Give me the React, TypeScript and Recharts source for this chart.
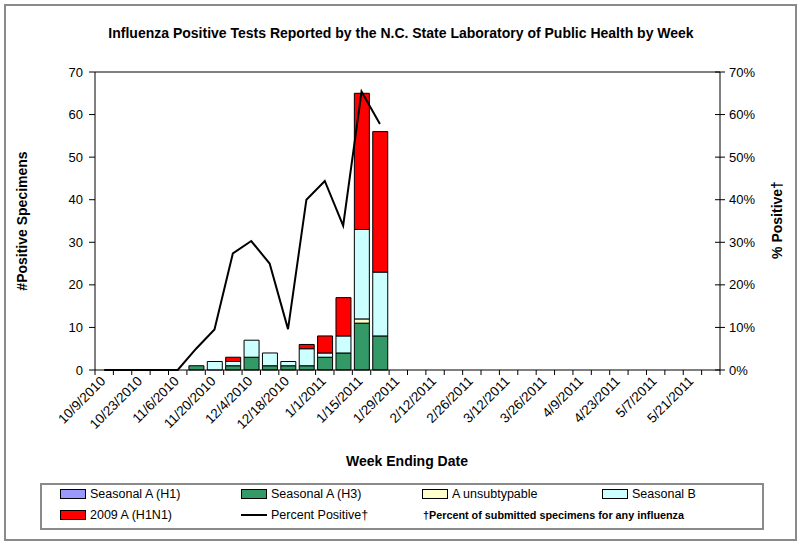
import React from 'react';
import { ComposedChart, Bar, Line, XAxis, YAxis, ReferenceLine } from 'recharts';

const weeks = [
  '10/9/2010', '10/16/2010', '10/23/2010', '10/30/2010', '11/6/2010', '11/13/2010',
  '11/20/2010', '11/27/2010', '12/4/2010', '12/11/2010', '12/18/2010', '12/25/2010',
  '1/1/2011', '1/8/2011', '1/15/2011', '1/22/2011', '1/29/2011', '2/5/2011',
  '2/12/2011', '2/19/2011', '2/26/2011', '3/5/2011', '3/12/2011', '3/19/2011',
  '3/26/2011', '4/2/2011', '4/9/2011', '4/16/2011', '4/23/2011', '4/30/2011',
  '5/7/2011', '5/14/2011', '5/21/2011', '5/28/2011',
];

const seasonalAH1 = [0, 0, 0, 0, 0, 0, 0, 0, 0, 0, 0, 0, 0, 0, 0, 0];
const seasonalAH3 = [0, 0, 0, 0, 0, 1, 0, 1, 3, 1, 1, 1, 3, 4, 11, 8];
const aUnsubtypable = [0, 0, 0, 0, 0, 0, 0, 0, 0, 0, 0, 0, 0, 0, 1, 0];
const seasonalB = [0, 0, 0, 0, 0, 0, 2, 1, 4, 3, 1, 4, 1, 4, 21, 15];
const h1n1_2009 = [0, 0, 0, 0, 0, 0, 0, 1, 0, 0, 0, 1, 4, 9, 32, 33];
const percentPositive = [0, 0, 0, 0, 0, 5, 9.5, 27.4, 30.3, 25, 9.6, 40, 44.4, 33.9, 65.4, 57.8];

const leftTicks = [0, 10, 20, 30, 40, 50, 60, 70];
const rightTicks = [0, 10, 20, 30, 40, 50, 60, 70];

const data = weeks.map((week, i) => ({
  week,
  h1: seasonalAH1[i] ?? null,
  h3: seasonalAH3[i] ?? null,
  unsub: aUnsubtypable[i] ?? null,
  b: seasonalB[i] ?? null,
  h1n1: h1n1_2009[i] ?? null,
  pct: percentPositive[i] ?? null,
}));

const FONT = '"Liberation Sans", Arial, sans-serif';
const PLOT_LEFT = 95;
const PLOT_RIGHT = 720;
const PLOT_BOTTOM = 370;
const BAND = (PLOT_RIGHT - PLOT_LEFT) / weeks.length;

const COLORS = {
  h1: '#9999FF',
  h3: '#339966',
  unsub: '#FFFFCC',
  b: '#CCFFFF',
  h1n1: '#FF0000',
};

const XTick = (props: any) => {
  const { x, payload } = props;
  const idx = payload.index;
  const showLabel = idx % 2 === 0;
  const lx = x + 2;
  const ly = 382;
  return (
    <g>
      <line x1={x - BAND / 2} x2={x - BAND / 2} y1={PLOT_BOTTOM} y2={PLOT_BOTTOM + 5} stroke="#000" />
      {idx === weeks.length - 1 && (
        <line x1={x + BAND / 2} x2={x + BAND / 2} y1={PLOT_BOTTOM} y2={PLOT_BOTTOM + 5} stroke="#000" />
      )}
      {showLabel && (
        <text
          x={lx}
          y={ly}
          transform={`rotate(-45 ${lx} ${ly})`}
          textAnchor="end"
          fontSize={13.5}
          fontFamily={FONT}
          fill="#000"
        >
          {payload.value}
        </text>
      )}
    </g>
  );
};

const RightTick = (props: any) => {
  const { y, payload } = props;
  return (
    <g>
      <line x1={PLOT_RIGHT - 5} x2={PLOT_RIGHT + 5} y1={y} y2={y} stroke="#000" />
      <text x={PLOT_RIGHT + 9} y={y} dy={4.5} textAnchor="start" fontSize={13} fontFamily={FONT} fill="#000">
        {payload.value + '%'}
      </text>
    </g>
  );
};

const LeftTick = (props: any) => {
  const { y, payload } = props;
  return (
    <text x={PLOT_LEFT - 12} y={y} dy={4.5} textAnchor="end" fontSize={13} fontFamily={FONT} fill="#000">
      {payload.value}
    </text>
  );
};

const Swatch = ({ color }: { color: string }) => (
  <span
    style={{
      display: 'inline-block',
      width: 24,
      height: 8,
      background: color,
      border: '1px solid #000',
      marginRight: 4,
      verticalAlign: 'middle',
      position: 'relative',
      top: -1,
    }}
  />
);

const LineSwatch = () => (
  <span
    style={{
      display: 'inline-block',
      width: 26,
      height: 2,
      background: '#000',
      marginRight: 4,
      verticalAlign: 'middle',
      position: 'relative',
      top: -1,
    }}
  />
);

const legendItem = (left: number, top: number, content: React.ReactNode) => (
  <div
    style={{
      position: 'absolute',
      left,
      top,
      whiteSpace: 'nowrap',
      fontSize: 12.5,
      fontFamily: FONT,
      lineHeight: '14px',
      color: '#000',
    }}
  >
    {content}
  </div>
);

const axisTitleStyle: React.CSSProperties = {
  position: 'absolute',
  fontSize: 14,
  fontWeight: 'bold',
  fontFamily: FONT,
  whiteSpace: 'nowrap',
};

export default function App() {
  return (
    <div style={{ position: 'absolute', left: 0, top: 0, width: 800, height: 547, background: '#fff', fontFamily: FONT }}>
      <div
        style={{
          position: 'absolute',
          left: 4,
          top: 4,
          width: 789,
          height: 533,
          border: '2px solid #8a8a8a',
        }}
      />
      <ComposedChart
        width={800}
        height={547}
        data={data}
        margin={{ top: 72, right: 0, bottom: 77, left: 0 }}
        barGap={0}
      >
        <XAxis
          dataKey="week"
          interval={0}
          tickLine={false}
          tick={(p: any) => <XTick {...p} />}
          axisLine={{ stroke: '#000' }}
          height={100}
        />
        <YAxis
          yAxisId="left"
          orientation="left"
          width={95}
          domain={[0, 70]}
          ticks={leftTicks}
          interval={0}
          tick={(p: any) => <LeftTick {...p} />}
          tickLine={{ stroke: '#000' }}
          tickSize={6}
          axisLine={{ stroke: '#000' }}
        />
        <YAxis
          yAxisId="right"
          orientation="right"
          width={80}
          domain={[0, 70]}
          ticks={rightTicks}
          interval={0}
          tick={(p: any) => <RightTick {...p} />}
          tickLine={false}
          axisLine={{ stroke: '#000' }}
        />
        <ReferenceLine yAxisId="left" y={70} stroke="#000" />
        <Bar yAxisId="left" dataKey="h1" stackId="a" fill={COLORS.h1} stroke="#000" strokeWidth={1} barSize={15} isAnimationActive={false} />
        <Bar yAxisId="left" dataKey="h3" stackId="a" fill={COLORS.h3} stroke="#000" strokeWidth={1} barSize={15} isAnimationActive={false} />
        <Bar yAxisId="left" dataKey="unsub" stackId="a" fill={COLORS.unsub} stroke="#000" strokeWidth={1} barSize={15} isAnimationActive={false} />
        <Bar yAxisId="left" dataKey="b" stackId="a" fill={COLORS.b} stroke="#000" strokeWidth={1} barSize={15} isAnimationActive={false} />
        <Bar yAxisId="left" dataKey="h1n1" stackId="a" fill={COLORS.h1n1} stroke="#000" strokeWidth={1} barSize={15} isAnimationActive={false} />
        <Line
          yAxisId="right"
          dataKey="pct"
          type="linear"
          stroke="#000"
          strokeWidth={2}
          dot={false}
          activeDot={false}
          connectNulls={false}
          isAnimationActive={false}
        />
      </ComposedChart>

      <div
        style={{
          position: 'absolute',
          left: 0,
          top: 25,
          width: 802,
          textAlign: 'center',
          fontSize: 14,
          fontWeight: 'bold',
          fontFamily: FONT,
          whiteSpace: 'nowrap',
        }}
      >
        Influenza Positive Tests Reported by the N.C. State Laboratory of Public Health by Week
      </div>

      <div style={{ ...axisTitleStyle, left: 22, top: 221, transform: 'translate(-50%, -50%) rotate(-90deg)' }}>
        #Positive Specimens
      </div>

      <div style={{ ...axisTitleStyle, left: 777, top: 220, transform: 'translate(-50%, -50%) rotate(-90deg)' }}>
        % Positive†
      </div>

      <div style={{ ...axisTitleStyle, left: 407, top: 461, transform: 'translate(-50%, -50%)' }}>
        Week Ending Date
      </div>

      <div
        style={{
          position: 'absolute',
          left: 40,
          top: 483,
          width: 720,
          height: 43,
          border: '2px solid #8a8a8a',
        }}
      />
      {legendItem(60, 487, <><Swatch color={COLORS.h1} />Seasonal A (H1)</>)}
      {legendItem(241, 487, <><Swatch color={COLORS.h3} />Seasonal A (H3)</>)}
      {legendItem(422, 487, <><Swatch color={COLORS.unsub} />A unsubtypable</>)}
      {legendItem(602, 487, <><Swatch color={COLORS.b} />Seasonal B</>)}
      {legendItem(60, 508, <><Swatch color={COLORS.h1n1} />2009 A (H1N1)</>)}
      {legendItem(241, 508, <><LineSwatch />Percent Positive†</>)}
      <div
        style={{
          position: 'absolute',
          left: 423,
          top: 509,
          fontSize: 10.8,
          fontWeight: 'bold',
          fontFamily: FONT,
          whiteSpace: 'nowrap',
          lineHeight: '12px',
        }}
      >
        †Percent of submitted specimens for any influenza
      </div>
    </div>
  );
}
